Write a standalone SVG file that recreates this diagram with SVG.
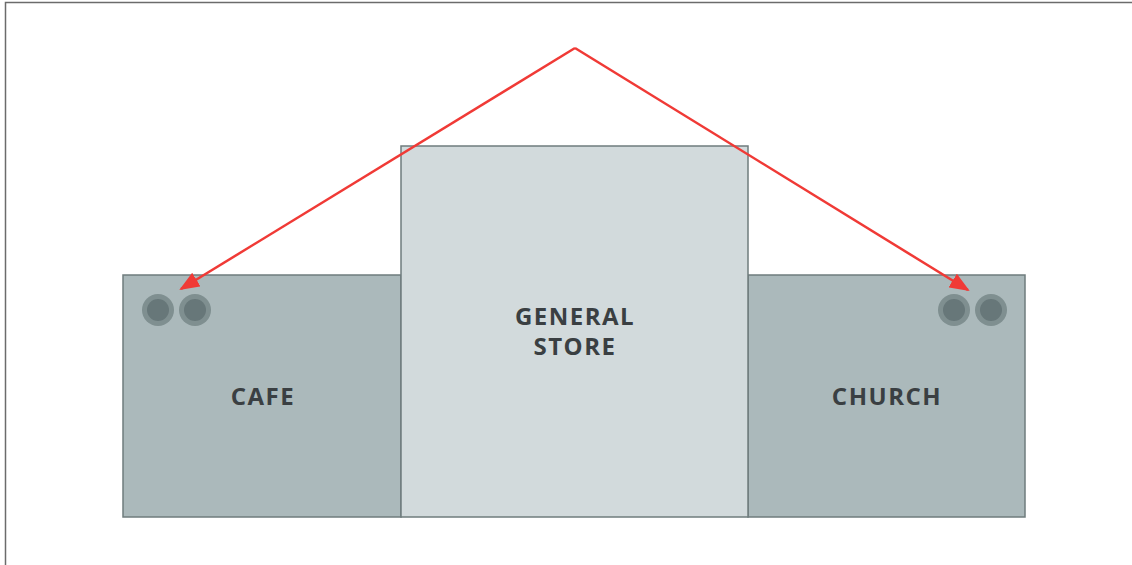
<svg xmlns="http://www.w3.org/2000/svg" width="1132" height="565" viewBox="0 0 1132 565">
<style>
.bldg{stroke:#6f7c7d;stroke-width:1.5}
.side{fill:#abb9bb}
.main{fill:#d2dadc}
.lbl{font-family:"Open Sans","Liberation Sans",sans-serif;font-weight:bold;font-size:24px;fill:#3a3f42;text-anchor:middle;letter-spacing:1.5px}
.outer{fill:#7f8f90}
.inner{fill:#677779}
.conn{stroke:#f03a36;stroke-width:2.5;fill:none}
</style>
<defs>
<marker id="arrow" viewBox="0 0 20 16" refX="18" refY="8" markerWidth="20" markerHeight="16" markerUnits="userSpaceOnUse" orient="auto">
<path d="M0,0 L20,8 L0,16 z" fill="#f03a36"/>
</marker>
</defs>
<rect width="1132" height="565" fill="#ffffff"/>
<path d="M5.5,565 V2.5 H1132" fill="none" stroke="#6b6b6b" stroke-width="1.5"/>
<g id="cafe">
<rect class="bldg side" x="123" y="275" width="278" height="242"/>
<circle class="outer" cx="158" cy="310" r="16"/>
<circle class="inner" cx="158" cy="310" r="11"/>
<circle class="outer" cx="195" cy="310" r="16"/>
<circle class="inner" cx="195" cy="310" r="11"/>
<text class="lbl" x="263" y="405">CAFE</text>
</g>
<g id="church">
<rect class="bldg side" x="748" y="275" width="277" height="242"/>
<circle class="outer" cx="954" cy="310" r="16"/>
<circle class="inner" cx="954" cy="310" r="11"/>
<circle class="outer" cx="991" cy="310" r="16"/>
<circle class="inner" cx="991" cy="310" r="11"/>
<text class="lbl" x="887" y="405">CHURCH</text>
</g>
<g id="general-store">
<rect class="bldg main" x="401" y="146" width="347" height="371"/>
<text class="lbl" x="575" y="325">GENERAL</text>
<text class="lbl" x="575" y="355">STORE</text>
</g>
<g id="connectors">
<path class="conn" d="M575,48 L181,289" marker-end="url(#arrow)"/>
<path class="conn" d="M575,48 L968,290" marker-end="url(#arrow)"/>
</g>
</svg>
